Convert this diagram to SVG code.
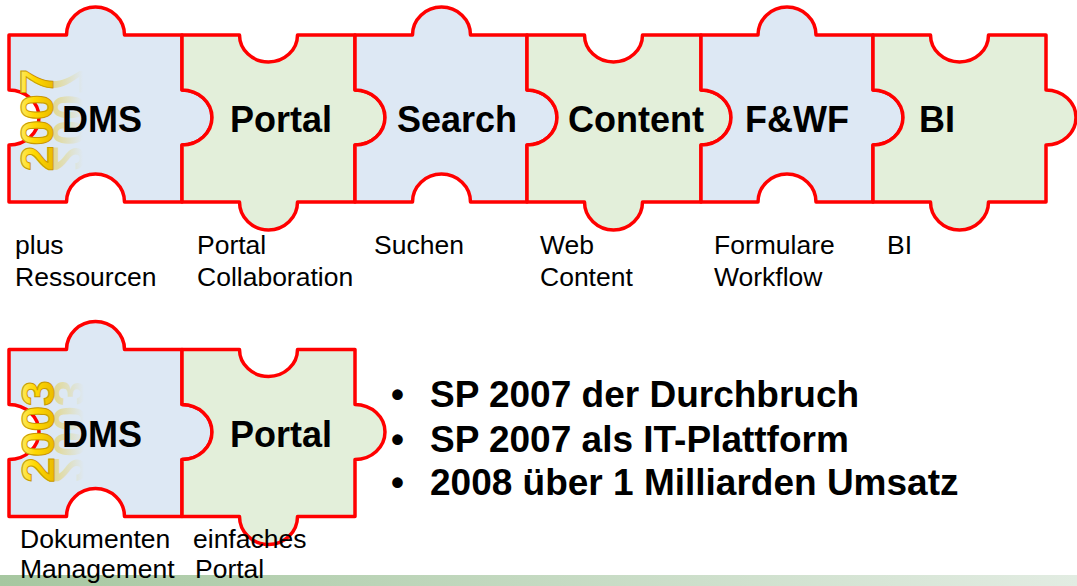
<svg xmlns="http://www.w3.org/2000/svg" width="1077" height="586" viewBox="0 0 1077 586">
<defs>
<style>
.pa{fill:#dde8f4;stroke:#ff0000;stroke-width:3.5;stroke-linejoin:round}
.pb{fill:#e3efda;stroke:#ff0000;stroke-width:3.5;stroke-linejoin:round}
.lbl{font-family:"Liberation Sans",Arial,sans-serif;font-weight:bold;font-size:36px;fill:#000}
.sm{font-family:"Liberation Sans",Arial,sans-serif;font-size:26.5px;fill:#000}
.bul{font-family:"Liberation Sans",Arial,sans-serif;font-weight:bold;font-size:37px;fill:#000}
.yr{font-family:"Liberation Sans",Arial,sans-serif;font-weight:bold;font-size:46px;fill:url(#gold);stroke:#c99a00;stroke-width:1}
.yrr{font-family:"Liberation Sans",Arial,sans-serif;font-weight:bold;font-size:46px;fill:url(#goldRefl)}
</style>
<linearGradient id="gold" x1="0" y1="0" x2="0" y2="1">
<stop offset="0" stop-color="#fff59a"/>
<stop offset="0.45" stop-color="#ffd800"/>
<stop offset="1" stop-color="#e0ac00"/>
</linearGradient>
<linearGradient id="goldRefl" gradientUnits="userSpaceOnUse" x1="0" y1="0" x2="0" y2="-30">
<stop offset="0" stop-color="#e8c000" stop-opacity="0.4"/>
<stop offset="1" stop-color="#e8c000" stop-opacity="0"/>
</linearGradient>
<linearGradient id="bar" x1="0" y1="0" x2="1" y2="0">
<stop offset="0" stop-color="#a6c7a0"/>
<stop offset="1" stop-color="#e2ece2"/>
</linearGradient>
</defs>
<rect x="0" y="0" width="1077" height="586" fill="#ffffff"/>
<rect x="0" y="575" width="1077" height="11" fill="url(#bar)"/>

<g id="row2007">
<g id="dms2007">
<path class="pa" d="M9,35 H66.5 A29,28 0 0 1 124.5,35 H182 V90 A30,27.5 0 0 1 182,145 V202 H124.5 A29,28 0 0 0 66.5,202 H9 V145 A30,27.5 0 0 0 9,90 Z"/>
<g transform="translate(53,120) rotate(-90)">
<text class="yrr" x="0" y="0" text-anchor="middle" transform="scale(1,-1)">2007</text>
<text class="yr" x="0" y="0" text-anchor="middle">2007</text>
</g>
<text class="lbl" x="62" y="132">DMS</text>
</g>
<g id="portal2007">
<path class="pb" d="M182,35 H239.5 A29,27 0 0 0 297.5,35 H355 V90 A30,27.5 0 0 1 355,145 V202 H297.5 A29,28 0 0 1 239.5,202 H182 V145 A30,27.5 0 0 0 182,90 Z"/>
<text class="lbl" x="230" y="132">Portal</text>
</g>
<g id="search2007">
<path class="pa" d="M355,35 H412.5 A29,28 0 0 1 470.5,35 H527 V90 A30,27.5 0 0 1 527,145 V202 H470.5 A29,28 0 0 0 412.5,202 H355 V145 A30,27.5 0 0 0 355,90 Z"/>
<text class="lbl" x="397" y="132">Search</text>
</g>
<g id="content2007">
<path class="pb" d="M527,35 H584.5 A29,27 0 0 0 642.5,35 H701 V90 A30,27.5 0 0 1 701,145 V202 H642.5 A29,28 0 0 1 584.5,202 H527 V145 A30,27.5 0 0 0 527,90 Z"/>
<text class="lbl" x="568" y="132">Content</text>
</g>
<g id="fwf2007">
<path class="pa" d="M701,35 H758 A29,28 0 0 1 816,35 H873 V90 A30,27.5 0 0 1 873,145 V202 H816 A29,28 0 0 0 758,202 H701 V145 A30,27.5 0 0 0 701,90 Z"/>
<text class="lbl" x="745" y="132">F&amp;WF</text>
</g>
<g id="bi2007">
<path class="pb" d="M873,35 H930.5 A29,27 0 0 0 988.5,35 H1046 V90 A30,27.5 0 0 1 1046,145 V202 H988.5 A29,28 0 0 1 930.5,202 H873 V145 A30,27.5 0 0 0 873,90 Z"/>
<text class="lbl" x="919" y="132">BI</text>
</g>
</g>

<g id="labels2007">
<text class="sm" x="15" y="254">plus</text>
<text class="sm" x="15" y="286">Ressourcen</text>
<text class="sm" x="197" y="254">Portal</text>
<text class="sm" x="197" y="286">Collaboration</text>
<text class="sm" x="374" y="254">Suchen</text>
<text class="sm" x="540" y="254">Web</text>
<text class="sm" x="540" y="286">Content</text>
<text class="sm" x="714" y="254">Formulare</text>
<text class="sm" x="714" y="286">Workflow</text>
<text class="sm" x="887" y="254">BI</text>
</g>

<g id="row2003" transform="translate(0,314.5)">
<g id="dms2003">
<path class="pa" d="M9,35 H66.5 A29,28 0 0 1 124.5,35 H182 V90 A30,27.5 0 0 1 182,145 V202 H124.5 A29,28 0 0 0 66.5,202 H9 V145 A30,27.5 0 0 0 9,90 Z"/>
<g transform="translate(54,117) rotate(-90)">
<text class="yrr" x="0" y="0" text-anchor="middle" transform="scale(1,-1)">2003</text>
<text class="yr" x="0" y="0" text-anchor="middle">2003</text>
</g>
<text class="lbl" x="62" y="132">DMS</text>
</g>
<g id="portal2003">
<path class="pb" d="M182,35 H239.5 A29,27 0 0 0 297.5,35 H355 V90 A30,27.5 0 0 1 355,145 V202 H297.5 A29,28 0 0 1 239.5,202 H182 V145 A30,27.5 0 0 0 182,90 Z"/>
<text class="lbl" x="230" y="132">Portal</text>
</g>
</g>

<g id="labels2003">
<text class="sm" x="20" y="548">Dokumenten</text>
<text class="sm" x="20" y="578">Management</text>
<text class="sm" x="193" y="548">einfaches</text>
<text class="sm" x="195" y="578">Portal</text>
</g>

<g id="bullets">
<text class="bul" x="391" y="407">•</text>
<text class="bul" x="430" y="407">SP 2007 der Durchbruch</text>
<text class="bul" x="391" y="452">•</text>
<text class="bul" x="430" y="452">SP 2007 als IT-Plattform</text>
<text class="bul" x="391" y="495">•</text>
<text class="bul" x="430" y="495">2008 über 1 Milliarden Umsatz</text>
</g>
</svg>
